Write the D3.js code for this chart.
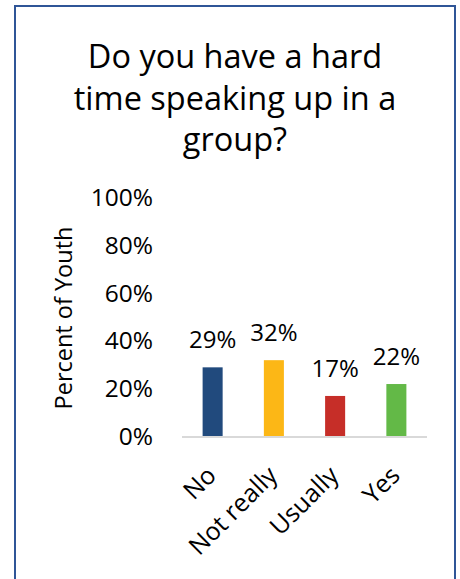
<!DOCTYPE html>
<html>
<head>
<meta charset="utf-8">
<script src="https://cdn.jsdelivr.net/npm/d3@7"></script>
<style>
  html, body { margin: 0; padding: 0; background: #fff; }
  svg { display: block; }
  text { font-family: "Open Sans", "Noto Sans", sans-serif; fill: #000; }
</style>
</head>
<body>
<svg id="chart" width="460" height="579"></svg>
<script>
const titleLines = ["Do you have a hard", "time speaking up in a", "group?"];
const categories = ["No", "Not really", "Usually", "Yes"];
const values = [0.29, 0.32, 0.17, 0.22];
const barColors = ["#214A7D", "#FCB716", "#C62E28", "#63B947"];
const yTicks = [0, 0.2, 0.4, 0.6, 0.8, 1.0];
const yAxisTitle = "Percent of Youth";

const svg = d3.select("#chart");

// chart border
svg.append("rect")
  .attr("x", 15).attr("y", 6)
  .attr("width", 440).attr("height", 600)
  .attr("fill", "#fff")
  .attr("stroke", "#2F5597")
  .attr("stroke-width", 2);

// title
svg.append("g").selectAll("text")
  .data(titleLines)
  .join("text")
  .attr("x", 235)
  .attr("y", (d, i) => 68 + i * 41.5)
  .attr("text-anchor", "middle")
  .attr("font-size", 32.5)
  .text(d => d);

const x = d3.scaleBand()
  .domain(categories)
  .range([182, 427])
  .paddingInner(0.673)
  .paddingOuter(0.3365);

const y = d3.scaleLinear().domain([0, 1]).range([436.5, 198]);

// y axis (labels only)
const yAxis = d3.axisLeft(y)
  .tickValues(yTicks)
  .tickFormat(d3.format(".0%"))
  .tickSize(0)
  .tickPadding(0);
const yg = svg.append("g").attr("transform", "translate(153,0)").call(yAxis);
yg.select(".domain").remove();
yg.selectAll("text")
  .attr("font-size", 24.5)
  .attr("font-family", "\"Open Sans\", sans-serif")
  .attr("fill", "#000");

// y axis title
svg.append("text")
  .attr("transform", "translate(72,318) rotate(-90)")
  .attr("text-anchor", "middle")
  .attr("font-size", 23.5)
  .text(yAxisTitle);

// bars
svg.append("g").selectAll("rect")
  .data(values)
  .join("rect")
  .attr("x", (d, i) => x(categories[i]))
  .attr("width", x.bandwidth())
  .attr("y", d => y(d))
  .attr("height", d => y(0) - y(d))
  .attr("fill", (d, i) => barColors[i]);

// baseline
svg.append("line")
  .attr("x1", 182).attr("x2", 427)
  .attr("y1", y(0) + 0.5).attr("y2", y(0) + 0.5)
  .attr("stroke", "#D9D9D9")
  .attr("stroke-width", 2);

// data labels
svg.append("g").selectAll("text")
  .data(values)
  .join("text")
  .attr("x", (d, i) => x(categories[i]) + x.bandwidth() / 2)
  .attr("y", d => y(d) - 19)
  .attr("text-anchor", "middle")
  .attr("font-size", 24)
  .text(d => d3.format(".0%")(d));

// x axis labels
const xAxis = d3.axisBottom(x).tickSize(0).tickPadding(0);
const xg = svg.append("g").call(xAxis);
xg.select(".domain").remove();
xg.selectAll(".tick text")
  .attr("font-size", 25)
  .attr("font-family", "\"Open Sans\", sans-serif")
  .attr("fill", "#000")
  .attr("text-anchor", "end")
  .attr("y", 0)
  .attr("dy", 0)
  .attr("transform", "translate(5,477) rotate(-45)");
</script>
</body>
</html>
